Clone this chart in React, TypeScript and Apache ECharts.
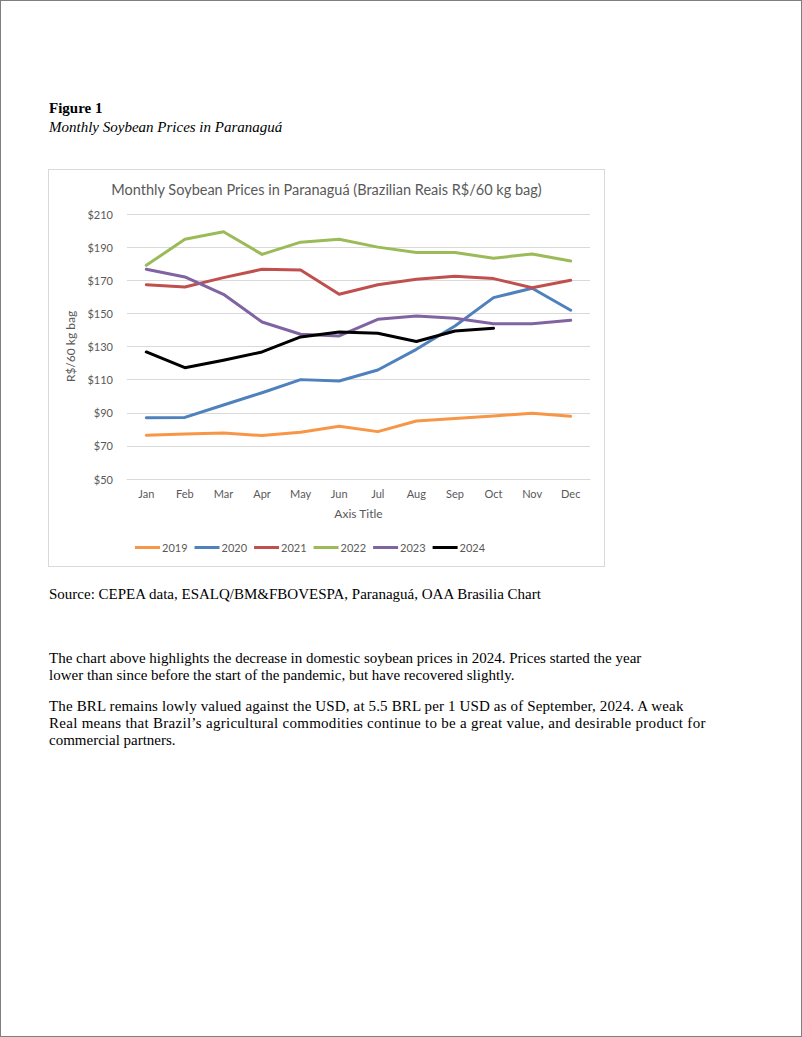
import React, { useEffect, useRef } from "react";
import * as echarts from "echarts";

const months = ["Jan", "Feb", "Mar", "Apr", "May", "Jun", "Jul", "Aug", "Sep", "Oct", "Nov", "Dec"];
const s2019 = [76.4, 77.2, 77.8, 76.2, 78.2, 81.8, 78.6, 85.0, 86.6, 88.0, 89.7, 87.9];
const s2020 = [87.0, 87.2, 94.7, 102.1, 110.0, 109.2, 115.8, 128.3, 142.4, 159.5, 165.2, 151.9];
const s2021 = [167.3, 165.9, 171.6, 176.6, 176.2, 161.5, 167.3, 170.6, 172.4, 171.0, 165.5, 170.0];
const s2022 = [179.0, 194.7, 199.3, 185.6, 193.0, 194.7, 190.0, 186.7, 186.7, 183.3, 185.9, 181.6];
const s2023 = [176.6, 172.0, 161.5, 144.8, 137.4, 136.4, 146.4, 148.4, 147.0, 143.8, 143.8, 145.8];
const s2024 = [126.7, 117.2, 121.7, 126.7, 135.8, 138.8, 138.0, 133.0, 139.4, 141.0];
const seriesNames = ["2019", "2020", "2021", "2022", "2023", "2024"];
const seriesColors = ["#F79646", "#4F81BD", "#C0504D", "#9BBB59", "#8064A2", "#000000"];
const seriesData = [s2019, s2020, s2021, s2022, s2023, s2024];

const chartFont = "Lato, 'Open Sans', sans-serif";

export default function App() {
  const ref = useRef<HTMLDivElement>(null);
  useEffect(() => {
    if (!ref.current) return;
    const chart = echarts.init(ref.current, null, { renderer: "svg" });
    chart.setOption({
      animation: false,
      backgroundColor: "#ffffff",
      textStyle: { fontFamily: chartFont },
      title: {
        text: "Monthly Soybean Prices in Paranaguá (Brazilian Reais R$/60 kg bag)",
        left: "center",
        top: 7,
        textStyle: { fontFamily: chartFont, fontSize: 14.5, fontWeight: "normal", color: "#595959" },
      },
      grid: { left: 78, right: 14, top: 44, bottom: 87, containLabel: false },
      legend: {
        left: 81,
        top: 367,
        itemWidth: 25,
        itemHeight: 3,
        itemGap: 7,
        icon: "rect",
        textStyle: { fontFamily: chartFont, fontSize: 11, color: "#595959", padding: [0, 0, 0, -3] },
        data: seriesNames,
      },
      xAxis: {
        type: "category",
        data: months,
        boundaryGap: true,
        name: "Axis Title",
        nameLocation: "middle",
        nameGap: 28,
        nameTextStyle: { fontFamily: chartFont, fontSize: 12, color: "#595959" },
        axisLine: { show: true, lineStyle: { color: "#d9d9d9", width: 1 } },
        axisTick: { show: false },
        axisLabel: { fontFamily: chartFont, fontSize: 11, color: "#595959", margin: 9 },
      },
      yAxis: {
        type: "value",
        min: 50,
        max: 210,
        interval: 20,
        name: "R$/60 kg bag",
        nameLocation: "middle",
        nameGap: 44,
        nameTextStyle: { fontFamily: chartFont, fontSize: 12, color: "#595959" },
        axisLine: { show: false },
        axisTick: { show: false },
        axisLabel: { fontFamily: chartFont, fontSize: 11, color: "#595959", margin: 14, formatter: (v: number) => "$" + v },
        splitLine: { lineStyle: { color: "#d9d9d9", width: 1 } },
      },
      series: seriesNames.map((name, i) => ({
        name,
        type: "line",
        data: seriesData[i],
        symbol: "none",
        color: seriesColors[i],
        lineStyle: { width: 3, color: seriesColors[i], cap: "round", join: "round" },
      })),
    });
    return () => chart.dispose();
  }, []);

  const serif = "'Liberation Serif', 'Times New Roman', serif";
  const textStyle: React.CSSProperties = {
    position: "absolute",
    left: 48,
    fontFamily: serif,
    fontSize: 15,
    lineHeight: "16.8px",
    color: "#000",
    margin: 0,
    whiteSpace: "nowrap",
  };
  return (
    <div style={{ position: "fixed", left: 0, top: 0, width: 802, height: 1037, background: "#fff", border: "1px solid #7f7f7f", boxSizing: "border-box", overflow: "hidden" }}>
      <div style={{ ...textStyle, top: 99, fontWeight: "bold" }}>Figure 1</div>
      <div style={{ ...textStyle, top: 118, fontStyle: "italic" }}>Monthly Soybean Prices in Paranaguá</div>
      <div style={{ position: "absolute", left: 47, top: 168, width: 557, height: 398, border: "1px solid #d9d9d9", boxSizing: "border-box" }}>
        <div ref={ref} style={{ width: 555, height: 396 }} />
      </div>
      <div style={{ ...textStyle, top: 585 }}>Source: CEPEA data, ESALQ/BM&amp;FBOVESPA, Paranaguá, OAA Brasilia Chart</div>
      <div style={{ ...textStyle, top: 649 }}>
        The chart above highlights the decrease in domestic soybean prices in 2024. Prices started the year
        <br />
        lower than since before the start of the pandemic, but have recovered slightly.
      </div>
      <div style={{ ...textStyle, top: 697 }}>
        <span style={{ letterSpacing: "0.14px" }}>The BRL remains lowly valued against the USD, at 5.5 BRL per 1 USD as of September, 2024. A weak</span>
        <br />
        <span style={{ letterSpacing: "0.28px" }}>Real means that Brazil’s agricultural commodities continue to be a great value, and desirable product for</span>
        <br />
        commercial partners.
      </div>
    </div>
  );
}
